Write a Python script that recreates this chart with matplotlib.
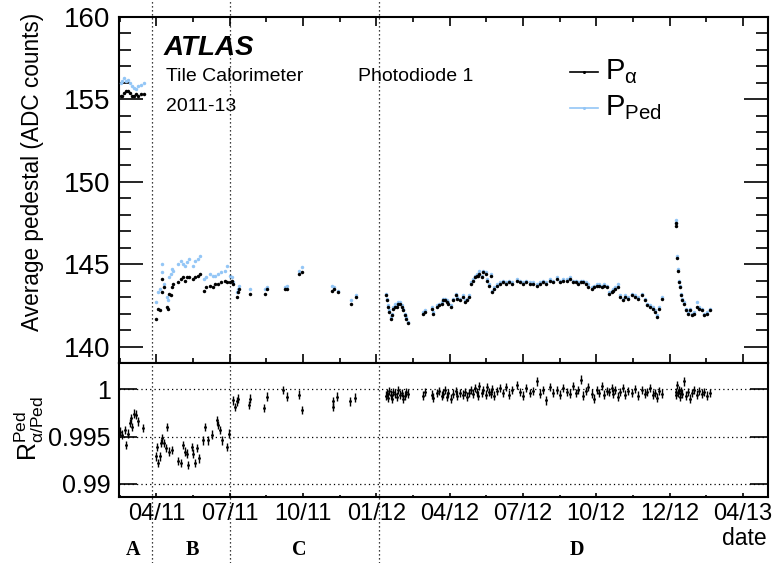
import matplotlib
matplotlib.use('Agg')
import matplotlib.pyplot as plt
from matplotlib.lines import Line2D
from matplotlib.ticker import MultipleLocator, FixedLocator
import matplotlib.transforms as mtransforms

plt.rcParams['font.family'] = ['Liberation Sans', 'DejaVu Sans']
plt.rcParams['mathtext.fontset'] = 'custom'
plt.rcParams['mathtext.rm'] = 'Liberation Sans'
plt.rcParams['mathtext.it'] = 'Liberation Sans:italic'
plt.rcParams['mathtext.bf'] = 'Liberation Sans:bold'

# ---------------- data (x in months since 01/2011) ----------------
tick_pos = [3, 6, 9, 12, 15, 18, 21, 24, 27]
tick_labels = ['04/11', '07/11', '10/11', '01/12', '04/12', '07/12', '10/12', '12/12', '04/13']
period_bounds = [2.82, 6.02, 12.12]
period_names = ['A', 'B', 'C', 'D']
period_label_x = [2.05, 4.46, 8.84, 20.2]

# Period A
x_A = [1.54, 1.60, 1.68, 1.76, 1.85, 1.93, 2.01, 2.09, 2.17, 2.25, 2.38, 2.50]
alpha_A = [155.2, 155.2, 155.4, 155.5, 155.5, 155.4, 155.2, 155.2, 155.3, 155.2, 155.3, 155.3]
ped_A = [156.0, 156.1, 156.3, 156.1, 156.2, 156.0, 155.8, 155.7, 155.6, 155.8, 155.9, 156.0]

# Period B
x_B = [2.99, 3.07, 3.15, 3.21, 3.25, 3.31, 3.42, 3.48, 3.52, 3.58, 3.64, 3.70, 3.89, 3.99,
       4.07, 4.17, 4.26, 4.32, 4.48, 4.58, 4.69, 4.77, 4.93, 5.03, 5.18, 5.30, 5.40, 5.54,
       5.65, 5.81, 5.91]
alpha_B = [141.7, 142.3, 142.2, 144.1, 143.3, 143.6, 142.4, 142.3, 143.2, 143.1, 143.6, 143.8,
           143.9, 144.1, 144.2, 144.0, 144.2, 144.2, 144.1, 144.2, 144.3, 144.4, 143.4, 143.6,
           143.7, 143.6, 143.8, 143.8, 143.9, 144.0, 143.9]
ped_B = [142.7, 143.3, 143.5, 145.0, 144.5, 143.8, 143.0, 142.8, 144.2, 144.4, 144.7, 144.6,
         145.0, 145.2, 145.0, 144.9, 145.1, 145.3, 144.9, 145.2, 145.3, 145.5, 144.1, 144.2,
         144.4, 144.3, 144.3, 144.4, 144.5, 144.6, 144.9]

# Period C
x_C = [6.02, 6.09, 6.15, 6.29, 6.33, 6.38, 6.83, 7.45, 7.54, 8.27, 8.36, 8.84, 8.97,
       10.20, 10.27, 10.45, 10.95, 11.16]
alpha_C = [143.9, 144.0, 143.8, 143.0, 143.3, 143.5, 143.2, 143.2, 143.5, 143.5, 143.5,
           144.4, 144.5, 143.4, 143.5, 143.3, 142.6, 143.0]
ped_C = [144.3, 144.2, 143.9, 143.3, 143.5, 143.7, 143.5, 143.5, 143.6, 143.6, 143.7,
         144.6, 144.8, 143.7, 143.6, 143.4, 142.8, 143.1]

# Period D
x_D = [12.40, 12.43, 12.47, 12.53, 12.60, 12.64, 12.70, 12.77, 12.84, 12.90, 12.97, 13.04,
       13.11, 13.18, 13.22, 13.29,
       13.92, 13.99, 14.27, 14.33, 14.47, 14.58, 14.68, 14.74, 14.81, 14.89, 14.95, 15.05,
       15.13, 15.25, 15.32, 15.43, 15.54, 15.63, 15.73, 15.81,
       15.86, 15.95, 16.04, 16.11, 16.17, 16.22, 16.31, 16.38, 16.48, 16.54, 16.61, 16.68,
       16.75, 16.82, 16.93, 17.06,
       17.20, 17.31, 17.43, 17.55, 17.75, 17.88, 18.00, 18.13, 18.29, 18.41, 18.56, 18.70,
       18.82, 18.94, 19.11, 19.23, 19.38, 19.51, 19.64, 19.79, 19.92,
       20.06, 20.17, 20.27, 20.38, 20.47, 20.58, 20.68, 20.81, 20.91, 21.02, 21.11, 21.22,
       21.32, 21.43, 21.54, 21.63, 21.69, 21.77, 21.90,
       21.97, 22.08, 22.18, 22.31, 22.45, 22.59, 22.72, 22.86, 23.00, 23.09, 23.20, 23.31,
       23.41, 23.47, 23.58, 23.68,
       24.25, 24.26, 24.32, 24.36, 24.40, 24.43, 24.47, 24.52, 24.59, 24.67, 24.74, 24.84,
       24.93, 25.01, 25.11, 25.22, 25.32, 25.41, 25.52, 25.66]
alpha_D = [143.1, 142.8, 142.4, 142.1, 141.7, 141.9, 142.3, 142.4, 142.4, 142.6, 142.6, 142.4,
           142.2, 141.9, 141.7, 141.4,
           142.0, 142.1, 142.3, 142.0, 142.4, 142.5, 142.6, 142.8, 142.8, 142.7, 142.6, 142.4,
           142.8, 143.1, 142.9, 142.8, 143.0, 142.7, 142.8, 143.0,
           143.8, 144.0, 144.2, 144.3, 144.3, 144.4, 144.2, 144.5, 144.4, 144.0, 143.7, 144.3,
           143.3, 143.5, 143.7, 143.8,
           143.9, 143.8, 143.9, 143.8, 144.0, 143.9, 143.8, 143.9, 143.8, 143.8, 143.7, 143.8,
           143.9, 143.8, 144.0, 143.9, 144.1, 143.9, 144.0, 144.0, 144.1,
           143.9, 143.9, 143.8, 143.9, 143.9, 143.8, 143.6, 143.5, 143.6, 143.7, 143.7, 143.6,
           143.7, 143.6, 143.2, 143.3, 143.4, 143.5, 143.6,
           143.0, 142.8, 143.0, 142.9, 143.1, 143.0, 142.9, 143.1, 142.8, 142.5, 142.4, 142.3,
           142.1, 141.8, 142.3, 142.9,
           147.5, 147.3, 145.4, 144.6, 143.9, 143.6, 143.1, 142.8, 142.6, 142.2, 142.0, 142.2,
           141.9, 142.0, 142.4, 142.3, 142.2, 141.9, 142.0, 142.2]
ped_D = [143.2, 142.9, 142.5, 142.2, 141.8, 142.0, 142.4, 142.6, 142.6, 142.7, 142.7, 142.5,
         142.3, 142.0, 141.8, 141.5,
         142.1, 142.2, 142.4, 142.1, 142.5, 142.6, 142.7, 142.9, 142.9, 142.8, 142.7, 142.5,
         142.9, 143.2, 143.0, 142.9, 143.1, 142.8, 142.9, 143.1,
         143.9, 144.1, 144.3, 144.4, 144.4, 144.6, 144.3, 144.6, 144.5, 144.1, 143.8, 144.4,
         143.4, 143.6, 143.8, 143.9,
         144.0, 143.9, 144.0, 143.9, 144.1, 144.0, 143.9, 144.0, 143.9, 143.9, 143.8, 143.9,
         144.0, 143.9, 144.1, 144.0, 144.2, 144.0, 144.1, 144.1, 144.2,
         144.0, 144.0, 143.9, 144.0, 144.0, 143.9, 143.8, 143.6, 143.7, 143.8, 143.8, 143.7,
         143.8, 143.7, 143.3, 143.4, 143.5, 143.6, 143.8,
         143.1, 142.9, 143.1, 143.0, 143.2, 143.1, 143.0, 143.2, 142.9, 142.6, 142.5, 142.4,
         142.2, 141.9, 142.4, 143.0,
         147.7, 147.5, 145.5, 144.7, 144.0, 143.7, 143.2, 142.9, 142.7, 142.3, 142.1, 142.3,
         142.0, 142.1, 142.7, 142.4, 142.3, 142.0, 142.1, 142.3]

# Ratio panel
rx_A = [1.52, 1.59, 1.70, 1.76, 1.83, 1.90, 1.97, 2.02, 2.09, 2.16, 2.23, 2.44]
r_A = [0.9955, 0.9952, 0.9957, 0.9941, 0.9953, 0.9964, 0.9969, 0.9960, 0.9974, 0.9973,
       0.9966, 0.9959]
rx_B = [2.98, 3.04, 3.08, 3.15, 3.19, 3.25, 3.32, 3.39, 3.45, 3.53, 3.63, 3.90, 4.00, 4.08,
        4.17, 4.24, 4.31, 4.45, 4.51, 4.58, 4.68, 4.75, 4.90, 4.99, 5.13, 5.27, 5.47, 5.54,
        5.61, 5.70, 5.88, 5.97]
r_B = [0.9929, 0.9939, 0.9922, 0.9929, 0.9943, 0.9948, 0.9943, 0.9938, 0.9960, 0.9934,
       0.9936, 0.9924, 0.9922, 0.9941, 0.9934, 0.9932, 0.9920, 0.9939, 0.9932, 0.9922,
       0.9938, 0.9927, 0.9946, 0.9960, 0.9946, 0.9952, 0.9967, 0.9962, 0.9957, 0.9946,
       0.9939, 0.9953]
rx_C = [6.15, 6.22, 6.29, 6.36, 6.81, 6.83, 7.41, 7.52, 8.20, 8.34, 8.84, 8.97, 10.22, 10.24,
        10.41, 10.93, 11.13]
r_C = [0.9988, 0.9981, 0.9987, 0.9990, 0.9983, 0.9990, 0.9980, 0.9992, 0.9999, 0.9992,
       0.9994, 0.9978, 0.9987, 0.9981, 0.9992, 0.9987, 0.9991]
r_D = [0.9993, 0.9996, 0.9991, 0.9998, 0.9994, 0.9990, 0.9997, 0.9995, 0.9992, 0.9999,
       0.9994, 0.9996, 0.9990, 0.9993, 0.9997, 0.9995,
       0.9993, 0.9997, 0.9994, 0.9991, 0.9996, 0.9998, 0.9993, 0.9995, 0.9999, 0.9992,
       0.9996, 0.9990, 0.9995, 0.9998, 0.9993, 0.9996, 0.9994, 0.9997, 0.9992, 0.9996,
       0.9999, 0.9995, 1.0001, 0.9997, 0.9993, 1.0003, 0.9996, 0.9999, 0.9994, 1.0002,
       0.9997, 0.9995, 1.0000, 0.9993, 0.9998, 1.0001,
       0.9996, 1.0002, 0.9994, 0.9999, 1.0004, 0.9997, 0.9993, 1.0001, 0.9996, 0.9998,
       1.0008, 0.9995, 0.9999, 0.9988, 1.0002, 0.9996, 0.9999, 0.9994, 1.0001, 0.9997, 0.9995,
       1.0003, 0.9996, 0.9999, 1.0010, 0.9993, 0.9998, 1.0002, 0.9995, 0.9990, 0.9999,
       0.9996, 1.0003, 0.9994, 0.9998, 0.9997, 1.0001, 0.9995, 0.9999, 0.9992,
       0.9997, 1.0001, 0.9994, 0.9998, 0.9996, 1.0000, 0.9993, 0.9999, 0.9995, 0.9997,
       1.0001, 0.9994, 0.9996, 0.9991, 0.9998, 0.9995,
       0.9997, 0.9994, 1.0004, 0.9996, 0.9999, 0.9992, 0.9998, 0.9995, 1.0008, 0.9993,
       0.9997, 0.9990, 0.9996, 0.9999, 0.9994, 0.9998, 0.9995, 0.9997, 0.9993, 0.9996]
ratio_err = 0.00045

# ---------------- figure ----------------
BLUE = '#93c6f6'
fig = plt.figure(figsize=(7.76, 5.63), dpi=100)
ax = fig.add_axes([119 / 776, 1 - 363 / 563, 649 / 776, 346 / 563])
ax2 = fig.add_axes([119 / 776, 1 - 497 / 563, 649 / 776, 134 / 563])

segs = [(x_A, alpha_A, ped_A), (x_B, alpha_B, ped_B), (x_C, alpha_C, ped_C), (x_D, alpha_D, ped_D)]
for xs, pa, pp in segs:
    ax.plot(xs, pp, 'o', color=BLUE, ms=2.5, mew=0, ls='none', zorder=3)
for xs, pa, pp in segs:
    ax.plot(xs, pa, 'o', color='black', ms=2.5, mew=0, ls='none', zorder=4)

xlim = (1.47, 28.03)
ax.set_xlim(*xlim)
ax.set_ylim(139.0, 160.0)
ax2.set_xlim(*xlim)
ax2.set_ylim(0.98863, 1.00274)

for rx, rr in [(rx_A, r_A), (rx_B, r_B), (rx_C, r_C), (x_D, r_D)]:
    ax2.errorbar(rx, rr, yerr=ratio_err, xerr=0.03, fmt='o', ms=2.0, mew=0, color='black',
                 ecolor='black', elinewidth=1.0, capsize=0, zorder=4)

for yv in [0.99, 0.995, 1.0]:
    ax2.axhline(yv, color='black', lw=0.9, ls=(0, (1, 2.5)), zorder=1)

# spines
for a in (ax, ax2):
    for s in a.spines.values():
        s.set_linewidth(1.5)

# ticks main
ax.xaxis.set_major_locator(FixedLocator(tick_pos))
ax.xaxis.set_minor_locator(MultipleLocator(1.5))
ax.yaxis.set_major_locator(MultipleLocator(5))
ax.yaxis.set_minor_locator(MultipleLocator(1))
ax.tick_params(axis='x', which='both', direction='in', top=True, bottom=True,
               labelbottom=False, width=1.2)
ax.tick_params(axis='x', which='major', length=6.5)
ax.tick_params(axis='x', which='minor', length=3.6)
ax.tick_params(axis='y', which='both', direction='in', left=True, right=True, width=1.2,
               labelsize=20, pad=6)
ax.tick_params(axis='y', which='major', length=17)
ax.tick_params(axis='y', which='minor', length=8.6)
ax.set_yticks([140, 145, 150, 155, 160])
ax.set_yticklabels(['140', '145', '150', '155', '160'])

# ticks ratio
ax2.xaxis.set_major_locator(FixedLocator(tick_pos))
ax2.xaxis.set_minor_locator(MultipleLocator(1.5))
ax2.set_xticklabels(tick_labels)
ax2.tick_params(axis='x', which='both', direction='in', top=False, bottom=True,
                labelsize=17, pad=4, width=1.2)
ax2.tick_params(axis='x', which='major', length=3)
ax2.tick_params(axis='x', which='minor', length=1.5)
ax2.set_yticks([0.99, 0.995, 1.0])
ax2.set_yticklabels(['0.99', '0.995', '1'])
ax2.tick_params(axis='y', which='major', direction='in', left=True, right=True, length=13,
                width=1.2, labelsize=18, pad=6)

# labels
fig.text(33 / 776, 1 - 172 / 563, 'Average pedestal (ADC counts)', rotation=90,
         ha='center', va='center', fontsize=16.3)
fig.text(29 / 776, 1 - 428 / 563, r'$\mathregular{R^{Ped}_{\alpha/Ped}}$', rotation=90,
         ha='center', va='center', fontsize=18)
fig.text(767 / 776, 1 - 545 / 563, 'date', ha='right', va='baseline', fontsize=16.5)

# texts in main panel
ax.text(0.068, 0.89, 'ATLAS', transform=ax.transAxes, fontsize=20, fontweight='bold',
        fontstyle='italic', ha='left', va='baseline')
ax.text(0.072, 0.815, 'Tile Calorimeter', transform=ax.transAxes, fontsize=14,
        ha='left', va='baseline')
ax.text(0.368, 0.815, 'Photodiode 1', transform=ax.transAxes, fontsize=14,
        ha='left', va='baseline')
ax.text(0.072, 0.727, '2011-13', transform=ax.transAxes, fontsize=14,
        ha='left', va='baseline')

# legend
leg_y = [0.841, 0.737]
ax.add_line(Line2D([0.695, 0.738], [leg_y[0]] * 2, transform=ax.transAxes, color='black', lw=1.2))
ax.add_line(Line2D([0.7165], [leg_y[0]], transform=ax.transAxes, color='black', marker='o', ms=2.2, mew=0))
ax.add_line(Line2D([0.695, 0.738], [leg_y[1]] * 2, transform=ax.transAxes, color=BLUE, lw=1.2))
ax.add_line(Line2D([0.7165], [leg_y[1]], transform=ax.transAxes, color=BLUE, marker='o', ms=2.2, mew=0))
ax.text(0.749, leg_y[0], r'$\mathregular{P_{\alpha}}$', transform=ax.transAxes, fontsize=21,
        ha='left', va='center')
ax.text(0.749, leg_y[1], r'$\mathregular{P_{Ped}}$', transform=ax.transAxes, fontsize=21,
        ha='left', va='center')

# vertical period boundaries across whole figure
inv = fig.transFigure.inverted()
for xb in period_bounds:
    xf = inv.transform(ax.transData.transform((xb, 150)))[0]
    fig.add_artist(Line2D([xf, xf], [0, 1], transform=fig.transFigure, color='black',
                          lw=0.9, ls=(0, (1, 2.2))))

trans = mtransforms.blended_transform_factory(ax2.transData, fig.transFigure)
for name, xl in zip(period_names, period_label_x):
    fig.text(xl, 1 - 555 / 563, name, transform=trans, ha='center', va='baseline',
             fontsize=14.5, fontweight='bold', family='Liberation Serif')

fig.savefig('out.png', dpi=100)
